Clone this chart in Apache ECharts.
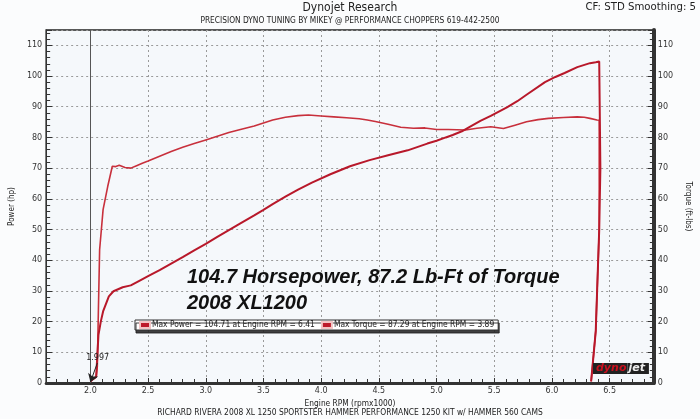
<!DOCTYPE html>
<html><head><meta charset="utf-8">
<script src="https://cdn.jsdelivr.net/npm/echarts/dist/echarts.min.js"></script>
<style>html,body{margin:0;padding:0;background:#fbfcfd}#c{width:700px;height:419px}</style>
</head><body><div id="c"></div>
<script>
// ---- data ----
const powerRpm = [2.00,2.02,2.05,2.06,2.07,2.09,2.11,2.16,2.20,2.28,2.35,2.42,2.50,2.60,2.70,2.80,2.90,3.00,3.10,3.20,3.30,3.42,3.50,3.58,3.69,3.80,3.92,4.08,4.25,4.42,4.58,4.75,4.92,5.00,5.08,5.14,5.22,5.28,5.38,5.47,5.61,5.70,5.78,5.94,6.03,6.11,6.22,6.33,6.38,6.41,6.42,6.41,6.38,6.34];
const powerHp = [0.5,1.2,2.0,2.2,15.7,20.0,23.3,28.2,29.9,31.2,31.8,33.2,34.8,36.8,38.9,41.0,43.2,45.3,47.6,49.8,52.0,54.6,56.4,58.3,60.7,63.0,65.3,68.0,70.6,72.6,74.2,75.8,78.0,78.9,80.0,80.8,82.0,83.3,85.4,87.0,89.8,91.8,93.9,98.0,99.7,101.0,102.9,104.2,104.5,104.71,70,50,17,0.5];
const torqueRpm = [2.00,2.02,2.05,2.06,2.07,2.08,2.11,2.15,2.19,2.22,2.25,2.30,2.35,2.40,2.45,2.50,2.60,2.70,2.80,2.90,3.00,3.10,3.20,3.30,3.42,3.50,3.58,3.69,3.80,3.89,4.00,4.11,4.22,4.33,4.40,4.47,4.58,4.69,4.80,4.90,5.00,5.10,5.25,5.35,5.47,5.58,5.68,5.78,5.88,5.97,6.10,6.22,6.28,6.33,6.39,6.41,6.41,6.38,6.34];
const torqueFtLb = [0.5,1.2,2.0,5.4,25.0,43.4,56.5,64.0,70.6,70.5,70.9,70.2,70.0,70.8,71.6,72.3,73.9,75.4,76.8,78.0,79.2,80.4,81.6,82.6,83.7,84.7,85.7,86.6,87.1,87.29,87.0,86.7,86.4,86.1,85.7,85.2,84.3,83.3,83.0,83.1,82.6,82.6,82.4,83.0,83.5,82.9,84.0,85.1,85.8,86.2,86.5,86.7,86.6,86.2,85.7,85.6,50,17,0.5];
const startRpm = 2.0;
const startLabel = '1.997';
const legendPower = 'Max Power = 104.71 at Engine RPM = 6.41';
const legendTorque = 'Max Torque = 87.29 at Engine RPM = 3.89';
const headline1 = '104.7 Horsepower, 87.2 Lb-Ft of Torque';
const headline2 = '2008 XL1200';
const titleMain = 'Dynojet Research';
const titleSub = 'PRECISION DYNO TUNING BY MIKEY @ PERFORMANCE CHOPPERS 619-442-2500';
const titleRight = 'CF: STD Smoothing: 5';
const footer = 'RICHARD RIVERA 2008 XL 1250 SPORTSTER HAMMER PERFORMANCE 1250 KIT w/ HAMMER 560 CAMS';

const zip = (xs, ys) => xs.map((x, i) => [x, ys[i]]);
const COND = '"DejaVu Sans Condensed","DejaVu Sans",sans-serif';
const RED = '#bd1a2a';

const chart = echarts.init(document.getElementById('c'), null, {renderer: 'canvas'});
const gridLine = {show: true, lineStyle: {type: [2, 3], color: '#9a9a9a', width: 1}};
chart.setOption({
  backgroundColor: '#fbfcfd',
  animation: false,
  title: [
    {text: titleMain, left: 'center', top: 2, padding: 0, textStyle: {fontFamily: COND, fontSize: 12, fontWeight: 'normal', color: '#222'}},
    {text: titleSub, left: 'center', top: 17, padding: 0, textStyle: {fontFamily: COND, fontSize: 8.3, fontWeight: 'normal', color: '#222'}},
    {text: titleRight, right: 4, top: 2, padding: 0, textStyle: {fontFamily: COND, fontSize: 11.3, fontWeight: 'normal', color: '#222'}},
    {text: footer, left: 'center', top: 409, padding: 0, textStyle: {fontFamily: COND, fontSize: 8.4, fontWeight: 'normal', color: '#222'}},
    {text: headline1, left: 187, top: 267, padding: 0, textStyle: {fontFamily: '"Liberation Sans",Arial,sans-serif', fontStyle: 'italic', fontWeight: 'bold', fontSize: 20, color: '#111'}},
    {text: headline2, left: 187, top: 293, padding: 0, textStyle: {fontFamily: '"Liberation Sans",Arial,sans-serif', fontStyle: 'italic', fontWeight: 'bold', fontSize: 20, color: '#111'}}
  ],
  legend: {
    left: 135, top: 320, orient: 'horizontal', icon: 'rect', itemWidth: 10, itemHeight: 6, itemGap: 6,
    padding: [1, 4, 1, 4], backgroundColor: '#fff', borderColor: '#333', borderWidth: 1,
    shadowColor: 'rgba(30,30,30,0.85)', shadowOffsetX: 1, shadowOffsetY: 3, shadowBlur: 0,
    itemStyle: {borderColor: '#f2c4c4', borderWidth: 2},
    textStyle: {fontFamily: COND, fontSize: 8.4, color: '#222', padding: [0, 0, 0, -3]},
    formatter: n => n === 'Power' ? legendPower : legendTorque,
    data: ['Power', 'Torque']
  },
  grid: {left: 34, right: 33, top: 30, bottom: 36, show: true, backgroundColor: '#f5f8fb', borderColor: '#222', borderWidth: 1.5},
  xAxis: {
    type: 'value', min: 1.6167, max: 6.8833, splitNumber: 10,
    name: 'Engine RPM (rpmx1000)', nameLocation: 'middle', nameGap: 11,
    nameTextStyle: {fontFamily: COND, fontSize: 8.3, color: '#222'},
    axisLine: {show: true, onZero: false, lineStyle: {color: '#333', width: 3}},
    axisTick: {show: true, inside: true, length: 5, lineStyle: {color: '#333'}},
    minorTick: {show: true, splitNumber: 5, length: 4, lineStyle: {color: '#333'}},
    axisLabel: {margin: 4, fontFamily: '"DejaVu Sans",sans-serif', fontSize: 8, color: '#333', showMinLabel: false, showMaxLabel: false,
      formatter: v => Math.abs(v * 2 - Math.round(v * 2)) < 1e-6 ? v.toFixed(1) : ''},
    splitLine: gridLine
  },
  yAxis: [
    {type: 'value', min: 0, max: 115, interval: 10, position: 'left',
      name: 'Power (hp)', nameLocation: 'middle', nameGap: 23, nameRotate: 90,
      nameTextStyle: {fontFamily: COND, fontSize: 8, color: '#222'},
      axisLine: {show: true, lineStyle: {color: '#333', width: 1}},
      axisTick: {show: true, inside: true, length: 6, lineStyle: {color: '#333'}},
      minorTick: {show: true, splitNumber: 5, length: 4, lineStyle: {color: '#333'}},
      axisLabel: {margin: 4, fontFamily: '"DejaVu Sans",sans-serif', fontSize: 8, color: '#333', showMaxLabel: false,
        formatter: v => v % 10 === 0 ? String(v) : ''},
      splitLine: gridLine},
    {type: 'value', min: 0, max: 115, interval: 10, position: 'right',
      name: 'Torque (ft-lbs)', nameLocation: 'middle', nameGap: 27, nameRotate: -90,
      nameTextStyle: {fontFamily: COND, fontSize: 8, color: '#222'},
      axisLine: {show: true, lineStyle: {color: '#333', width: 4}},
      axisTick: {show: true, inside: true, length: 6, lineStyle: {color: '#333'}},
      minorTick: {show: true, splitNumber: 5, length: 4, lineStyle: {color: '#333'}},
      axisLabel: {margin: 4, fontFamily: '"DejaVu Sans",sans-serif', fontSize: 8, color: '#333', showMaxLabel: false,
        formatter: v => v % 10 === 0 ? String(v) : ''},
      splitLine: {show: false}}
  ],
  series: [
    {name: 'Power', type: 'line', yAxisIndex: 0, data: zip(powerRpm, powerHp), showSymbol: false, symbol: 'none',
      color: RED, lineStyle: {color: '#b8182a', width: 2}, z: 3,
      markLine: {silent: true, animation: false, symbol: ['none', 'none'],
        data: [
          {xAxis: startRpm, label: {show: false}, lineStyle: {type: 'solid', color: '#555', width: 1}},
          [{coord: [startRpm + 0.06, 6.5], label: {show: true, position: 'start', formatter: startLabel, fontFamily: '"DejaVu Sans",sans-serif', fontSize: 8, color: '#222', distance: 1}, lineStyle: {type: 'solid', color: '#222', width: 1}},
           {coord: [startRpm, 0.3], symbol: 'arrow', symbolSize: 8}]
        ]}},
    {name: 'Torque', type: 'line', yAxisIndex: 1, data: zip(torqueRpm, torqueFtLb), showSymbol: false, symbol: 'none',
      color: RED, lineStyle: {color: '#c8303c', width: 1.6}, z: 2}
  ],
  graphic: [
    {type: 'text', left: 593, top: 363, z: 10, style: {
      text: '{a|dyno}{b|jet}',
      rich: {a: {fill: '#c8101e', fontFamily: '"DejaVu Sans",sans-serif', fontWeight: 'bold', fontStyle: 'italic', fontSize: 11, backgroundColor: '#222', padding: [0, 1, 0, 3]},
             b: {fill: '#eee', fontFamily: '"DejaVu Sans",sans-serif', fontWeight: 'bold', fontStyle: 'italic', fontSize: 11, backgroundColor: '#222', padding: [0, 4, 0, 1]}}}}
  ]
});
</script>
</body></html>
